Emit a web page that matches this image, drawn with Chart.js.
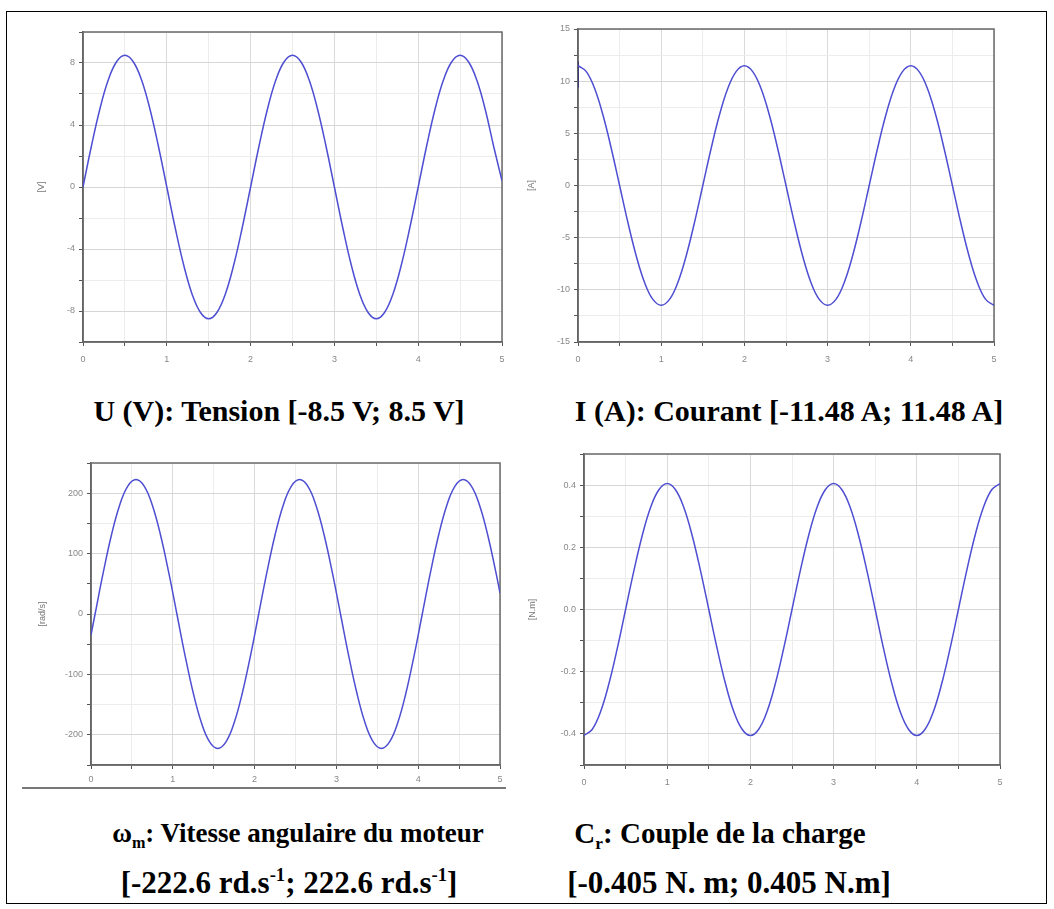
<!DOCTYPE html>
<html>
<head>
<meta charset="utf-8">
<script src="https://cdn.jsdelivr.net/npm/chart.js@4.4.1/dist/chart.umd.min.js"></script>
<style>
  body { margin: 0; background: #fff; width: 1054px; height: 909px; position: relative; overflow: hidden; }
  .frame { position: absolute; left: 6px; top: 11px; width: 1039px; height: 891px; border: 1px solid #000; }
  canvas { position: absolute; }
  .cap { position: absolute; font-family: "Liberation Serif", "Times New Roman", serif; font-weight: bold;
         font-size: 30px; color: #000; white-space: nowrap; transform: translate(-50%, -50%); line-height: 1; }
  .cap sub, .cap sup { font-size: 60%; line-height: 0; }
  .rule { position: absolute; left: 22px; top: 787px; width: 484px; height: 2px; background: #777; }
</style>
</head>
<body>
<div class="frame"></div>

<canvas id="cU" width="491" height="348" style="left:23px;top:22px"></canvas>
<canvas id="cI" width="488" height="351" style="left:518px;top:19px"></canvas>
<canvas id="cW" width="481" height="340" style="left:31px;top:453px"></canvas>
<canvas id="cC" width="488" height="349" style="left:524px;top:444px"></canvas>
<div class="rule"></div>

<div class="cap" style="left:279px;top:411px">U (V): Tension [-8.5 V; 8.5 V]</div>
<div class="cap" style="left:789px;top:411px">I (A): Courant [-11.48 A; 11.48 A]</div>
<div class="cap" style="left:298px;top:833px;font-size:27px">ω<sub>m</sub>: Vitesse angulaire du moteur</div>
<div class="cap" style="left:289px;top:882px;font-size:31px">[-222.6 rd.s<sup>-1</sup>; 222.6 rd.s<sup>-1</sup>]</div>
<div class="cap" style="left:720px;top:833px;font-size:29px">C<sub>r</sub>: Couple de la charge</div>
<div class="cap" style="left:729px;top:882px;font-size:31px">[-0.405 N. m; 0.405 N.m]</div>

<script>
// time axis (s), sampled every 0.1 s
const timeS = [0, 0.1, 0.2, 0.3, 0.4, 0.5, 0.6, 0.7, 0.8, 0.9,
  1, 1.1, 1.2, 1.3, 1.4, 1.5, 1.6, 1.7, 1.8, 1.9,
  2, 2.1, 2.2, 2.3, 2.4, 2.5, 2.6, 2.7, 2.8, 2.9,
  3, 3.1, 3.2, 3.3, 3.4, 3.5, 3.6, 3.7, 3.8, 3.9,
  4, 4.1, 4.2, 4.3, 4.4, 4.5, 4.6, 4.7, 4.8, 4.9, 5];

// U (V)
const tension = [0, 2.63, 5.00, 6.88, 8.08, 8.50, 8.08, 6.88, 5.00, 2.63,
  0, -2.63, -5.00, -6.88, -8.08, -8.50, -8.08, -6.88, -5.00, -2.63,
  0, 2.63, 5.00, 6.88, 8.08, 8.50, 8.08, 6.88, 5.00, 2.63,
  0, -2.63, -5.00, -6.88, -8.08, -8.50, -8.08, -6.88, -5.00, -2.63,
  0, 2.63, 5.00, 6.88, 8.08, 8.50, 8.08, 6.88, 5.00, 2.63, 0.4];

// I (A)
const courant = [11.48, 10.92, 9.29, 6.75, 3.55, 0, -3.55, -6.75, -9.29, -10.92,
  -11.48, -10.92, -9.29, -6.75, -3.55, 0, 3.55, 6.75, 9.29, 10.92,
  11.48, 10.92, 9.29, 6.75, 3.55, 0, -3.55, -6.75, -9.29, -10.92,
  -11.48, -10.92, -9.29, -6.75, -3.55, 0, 3.55, 6.75, 9.29, 10.92,
  11.48, 10.92, 9.29, 6.75, 3.55, 0, -3.55, -6.75, -9.29, -10.92, -11.48];
// short spike drawn at t = 0 on the current trace
const spikeT = [0, 0];
const spikeI = [9.4, 11.9];

// omega (rad/s), own time base (peaks near 0.55 s)
const timeW = [0, 0.05, 0.15, 0.25, 0.35, 0.45, 0.55, 0.65, 0.75, 0.85, 0.95,
  1.05, 1.15, 1.25, 1.35, 1.45, 1.55, 1.65, 1.75, 1.85, 1.95,
  2.05, 2.15, 2.25, 2.35, 2.45, 2.55, 2.65, 2.75, 2.85, 2.95,
  3.05, 3.15, 3.25, 3.35, 3.45, 3.55, 3.65, 3.75, 3.85, 3.95,
  4.05, 4.15, 4.25, 4.35, 4.45, 4.55, 4.65, 4.75, 4.85, 4.95, 5];
const vitesse = [-34.8, 0, 68.8, 130.8, 180.1, 211.7, 222.6, 211.7, 180.1, 130.8, 68.8,
  0, -68.8, -130.8, -180.1, -211.7, -222.6, -211.7, -180.1, -130.8, -68.8,
  0, 68.8, 130.8, 180.1, 211.7, 222.6, 211.7, 180.1, 130.8, 68.8,
  0, -68.8, -130.8, -180.1, -211.7, -222.6, -211.7, -180.1, -130.8, -68.8,
  0, 68.8, 130.8, 180.1, 211.7, 222.6, 211.7, 180.1, 130.8, 68.8, 34.8];

// Cr (N.m)
const couple = [-0.405, -0.385, -0.328, -0.238, -0.125, 0, 0.125, 0.238, 0.328, 0.385,
  0.405, 0.385, 0.328, 0.238, 0.125, 0, -0.125, -0.238, -0.328, -0.385,
  -0.405, -0.385, -0.328, -0.238, -0.125, 0, 0.125, 0.238, 0.328, 0.385,
  0.405, 0.385, 0.328, 0.238, 0.125, 0, -0.125, -0.238, -0.328, -0.385,
  -0.405, -0.385, -0.328, -0.238, -0.125, 0, 0.125, 0.238, 0.328, 0.385, 0.405];

const LINE = 'rgb(78,78,210)';
const TICK_FONT = { family: 'Liberation Sans, Arial, sans-serif', size: 9 };

// box around the plot area, like the Scilab axes
const plotBox = {
  id: 'plotBox',
  beforeDatasetsDraw(chart) {
    const { ctx, chartArea: a } = chart;
    ctx.save();
    ctx.strokeStyle = '#6a6a6a';
    ctx.lineWidth = 1.5;
    ctx.strokeRect(a.left, a.top, a.right - a.left, a.bottom - a.top);
    ctx.restore();
  }
};

function toPoints(xs, ys) {
  return xs.map((x, i) => ({ x: x, y: ys[i] }));
}

function makeChart(id, series, y, unit, titlePad, xPad) {
  new Chart(document.getElementById(id), {
    type: 'line',
    data: {
      datasets: series.map(s => ({
        data: toPoints(s.x, s.y),
        borderColor: s.color || LINE,
        borderWidth: 1.5,
        pointRadius: 0,
        tension: s.tension === undefined ? 0.4 : s.tension,
        fill: false
      }))
    },
    options: {
      responsive: false,
      animation: false,
      layout: { padding: { top: 10, right: 12, left: 0, bottom: 0 } },
      plugins: { legend: { display: false }, tooltip: { enabled: false } },
      scales: {
        x: {
          type: 'linear',
          min: 0, max: 5,
          afterFit: s => { s.height = 28; },
          border: { color: '#555', width: 1.5 },
          grid: {
            color: c => Number.isInteger(c.tick.value) ? '#dadada' : '#ececec',
            tickColor: '#555',
            tickLength: 4
          },
          ticks: {
            stepSize: 0.5,
            padding: xPad,
            autoSkip: false,
            maxRotation: 0,
            color: '#888',
            font: TICK_FONT,
            callback: v => Number.isInteger(v) ? String(v) : ''
          }
        },
        y: {
          min: y.min, max: y.max,
          afterFit: s => { s.width = 60; },
          border: { color: '#555', width: 1.5 },
          title: {
            display: true, text: unit, color: '#777',
            font: { family: 'Liberation Sans, Arial, sans-serif', size: 9 },
            padding: { top: titlePad, bottom: 0 }
          },
          grid: {
            color: c => y.isMajor(c.tick.value) ? '#d6d6d6' : '#ececec',
            tickColor: '#555',
            tickLength: 4
          },
          ticks: {
            stepSize: y.step,
            padding: 4,
            autoSkip: false,
            color: '#888',
            font: TICK_FONT,
            callback: v => y.isMajor(v) ? y.fmt(v) : ''
          }
        }
      }
    },
    plugins: [plotBox]
  });
}

makeChart('cU', [{ x: timeS, y: tension }],
  { min: -10, max: 10, step: 2, isMajor: v => Math.round(v) % 4 === 0, fmt: v => String(Math.round(v)) },
  '[V]', 13, 8);

makeChart('cI', [{ x: timeS, y: courant }, { x: spikeT, y: spikeI, tension: 0, color: 'rgb(40,40,120)' }],
  { min: -15, max: 15, step: 2.5, isMajor: v => Math.round(v * 2) % 2 === 0, fmt: v => String(Math.round(v)) },
  '[A]', 8, 8);

makeChart('cW', [{ x: timeW, y: vitesse }],
  { min: -250, max: 250, step: 50, isMajor: v => Math.round(v) % 100 === 0, fmt: v => String(Math.round(v)) },
  '[rad/s]', 6, 5);

makeChart('cC', [{ x: timeS, y: couple }],
  { min: -0.5, max: 0.5, step: 0.1, isMajor: v => Math.round(v * 10) % 2 === 0, fmt: v => v.toFixed(1) },
  '[N.m]', 3, 8);
</script>
</body>
</html>
